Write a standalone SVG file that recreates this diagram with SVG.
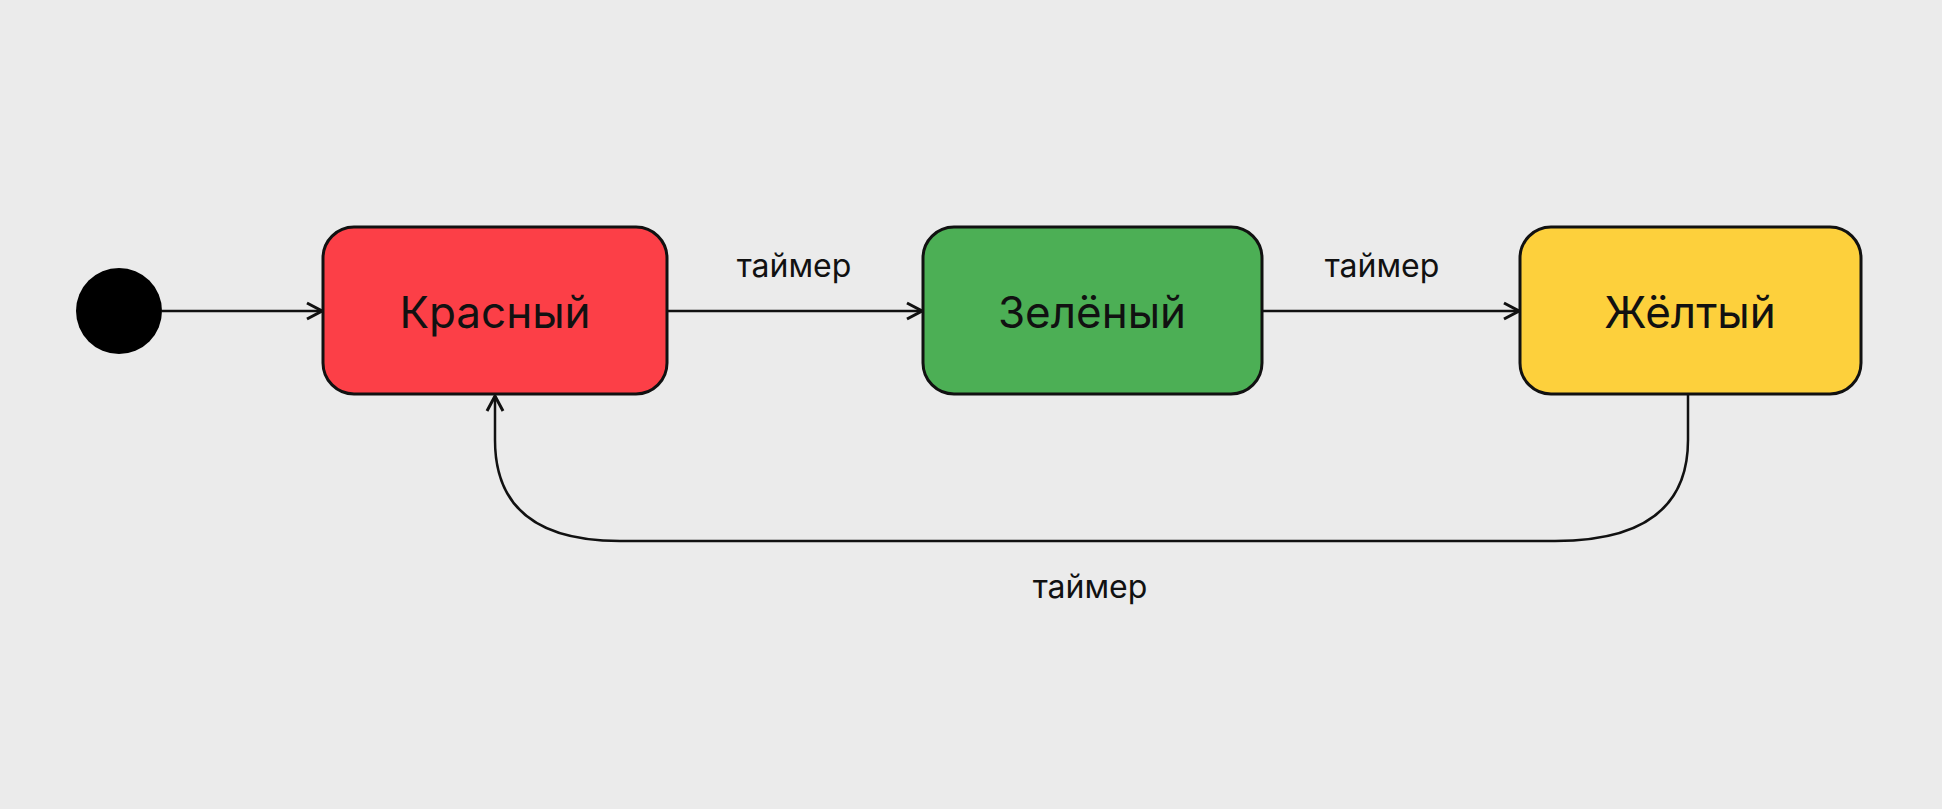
<svg xmlns="http://www.w3.org/2000/svg" width="1942" height="809" viewBox="0 0 1942 809">
<style>
.box{stroke:#111;stroke-width:3}
.lbl{font-family:"Inter","Noto Sans",sans-serif;font-size:44px;fill:#111;text-anchor:middle;dominant-baseline:central}
.ev{font-family:"Inter","Noto Sans",sans-serif;font-size:32px;fill:#111;text-anchor:middle}
.edge{fill:none;stroke:#111;stroke-width:2.5;marker-end:url(#ar)}
</style>
<defs><marker id="ar" viewBox="0 0 20 20" refX="19" refY="10" markerWidth="20" markerHeight="20" markerUnits="userSpaceOnUse" orient="auto"><path d="M4,2 L19,10 L4,18" fill="none" stroke="#111" stroke-width="3"/></marker></defs>
<rect width="1942" height="809" fill="#ebebeb"/>
<g id="initial"><circle cx="119" cy="311" r="43" fill="#000"/></g>
<g id="red"><rect class="box" x="323" y="227" width="344" height="167" rx="31" fill="#fc3f47"/><text class="lbl" x="495" y="312">Красный</text></g>
<g id="green"><rect class="box" x="923" y="227" width="339" height="167" rx="31" fill="#4caf55"/><text class="lbl" x="1092" y="312">Зелёный</text></g>
<g id="yellow"><rect class="box" x="1520" y="227" width="341" height="167" rx="31" fill="#fdd03c"/><text class="lbl" x="1690" y="312">Жёлтый</text></g>
<g id="connectors">
<path class="edge" d="M162,311 H322"/>
<path class="edge" d="M667,311 H922"/>
<path class="edge" d="M1262,311 H1519"/>
<path class="edge" d="M1688,394 V440 Q1688,541 1555,541 H620 Q495,541 495,440 V396"/>
<text class="ev" x="794" y="277">таймер</text>
<text class="ev" x="1382" y="277">таймер</text>
<text class="ev" x="1090" y="598">таймер</text>
</g>
</svg>
